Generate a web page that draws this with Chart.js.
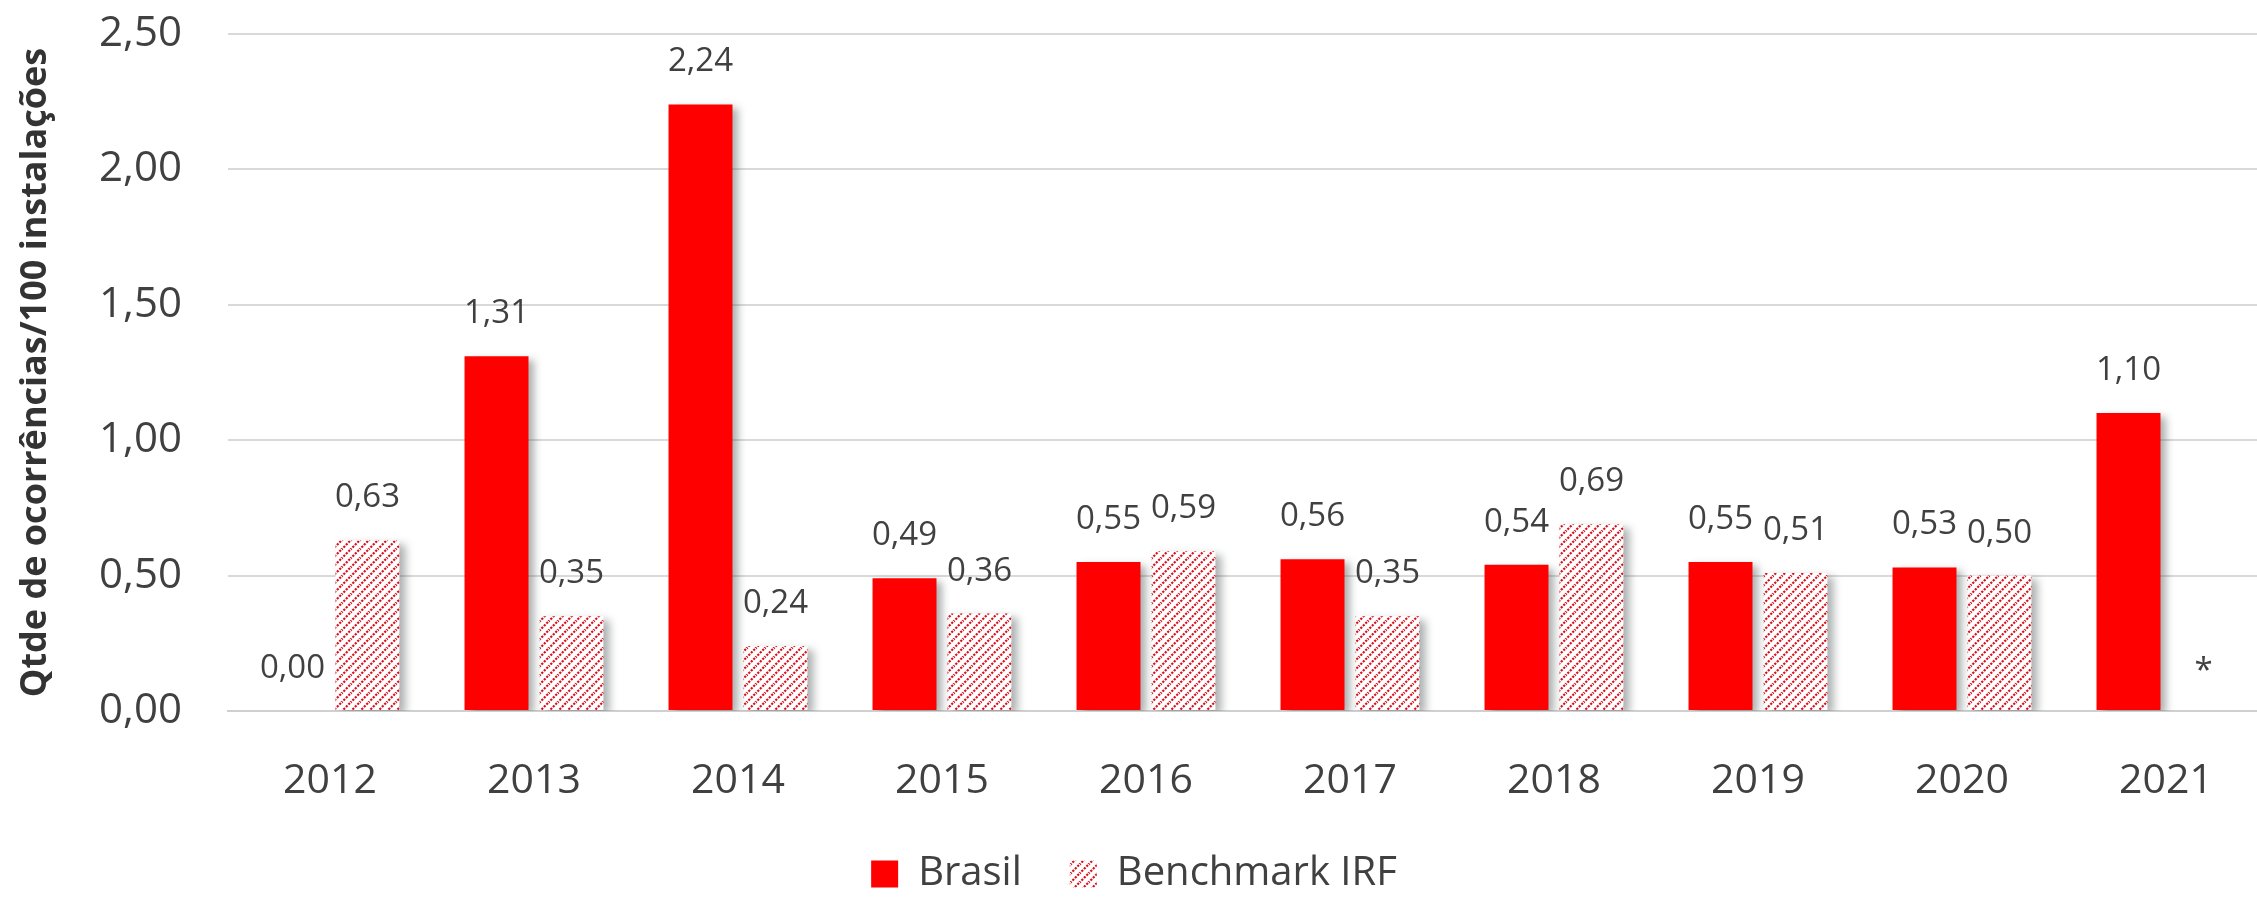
<!DOCTYPE html>
<html>
<head>
<meta charset="utf-8">
<script src="https://cdn.jsdelivr.net/npm/chart.js@4"></script>
<style>
  html, body { margin: 0; padding: 0; background: #fff; overflow: hidden; }
  #wrap { position: relative; width: 2275px; height: 898px; }
</style>
</head>
<body>
<div id="wrap"><canvas id="occChart"></canvas></div>
<script>
// chart data
const years = ['2012', '2013', '2014', '2015', '2016', '2017', '2018', '2019', '2020', '2021'];
const brasil = [0.00, 1.31, 2.24, 0.49, 0.55, 0.56, 0.54, 0.55, 0.53, 1.10];
const benchmark = [0.63, 0.35, 0.24, 0.36, 0.59, 0.35, 0.69, 0.51, 0.50, null];
const yTicks = [0, 0.5, 1.0, 1.5, 2.0, 2.5];
const seriesNames = ['Brasil', 'Benchmark IRF'];
const yTitle = 'Qtde de ocorrências/100 instalações';

const FONT = '"Open Sans", "DejaVu Sans", sans-serif';

function fmt(v) {
  return v.toFixed(2).replace('.', ',');
}

// diagonal dotted hatch used by the benchmark series
function makeHatch() {
  const size = 9;
  const c = document.createElement('canvas');
  c.width = size;
  c.height = size;
  const g = c.getContext('2d');
  g.fillStyle = '#ffffff';
  g.fillRect(0, 0, size, size);
  g.strokeStyle = '#d8101c';
  g.lineWidth = 2.2;
  g.setLineDash([2.2, 1.3]);
  g.beginPath();
  g.moveTo(-1, size + 1);
  g.lineTo(size + 1, -1);
  g.moveTo(-1, 1);
  g.lineTo(1, -1);
  g.moveTo(size - 1, size + 1);
  g.lineTo(size + 1, size - 1);
  g.stroke();
  return g.createPattern(c, 'repeat');
}

const hatch = makeHatch();

const barShadow = {
  id: 'barShadow',
  beforeDatasetsDraw(chart) {
    const ctx = chart.ctx;
    ctx.save();
    ctx.shadowColor = 'rgba(70,80,80,0.45)';
    ctx.shadowBlur = 8;
    ctx.shadowOffsetX = 6;
    ctx.shadowOffsetY = 4;
  },
  afterDatasetsDraw(chart) {
    chart.ctx.restore();
  }
};

const valueLabels = {
  id: 'valueLabels',
  afterDraw(chart) {
    const ctx = chart.ctx;
    const y0 = chart.scales.y.getPixelForValue(0);
    ctx.save();
    ctx.font = '33px ' + FONT;
    ctx.fillStyle = '#404040';
    ctx.textAlign = 'center';
    ctx.textBaseline = 'alphabetic';
    chart.data.datasets.forEach((ds, i) => {
      chart.getDatasetMeta(i).data.forEach((bar, j) => {
        const v = ds.data[j];
        if (v === null) {
          ctx.fillText('*', bar.x, y0 - 30);
        } else {
          ctx.fillText(fmt(v), bar.x, bar.y - 33);
        }
      });
    });
    ctx.restore();
  }
};

new Chart(document.getElementById('occChart'), {
  type: 'bar',
  data: {
    labels: years,
    datasets: [
      {
        label: seriesNames[0],
        data: brasil,
        backgroundColor: '#ff0000',
        borderWidth: 0
      },
      {
        label: seriesNames[1],
        data: benchmark,
        backgroundColor: hatch,
        borderWidth: 0
      }
    ]
  },
  options: {
    responsive: true,
    maintainAspectRatio: false,
    animation: false,
    devicePixelRatio: 1,
    categoryPercentage: 0.735,
    barPercentage: 0.853,
    layout: {
      padding: { top: 34, right: 7, bottom: -6, left: 0 }
    },
    plugins: {
      legend: {
        position: 'bottom',
        labels: {
          boxWidth: 27,
          boxHeight: 27,
          padding: 48,
          color: '#404040',
          font: { family: FONT, size: 40 }
        }
      },
      tooltip: { enabled: false }
    },
    scales: {
      x: {
        grid: { display: false, drawTicks: false },
        border: { display: true, color: '#d0d0d0', width: 2 },
        ticks: {
          color: '#404040',
          padding: 46,
          font: { family: FONT, size: 41 }
        },
        afterFit(scale) {
          scale.height = 95;
        }
      },
      y: {
        min: 0,
        max: 2.5,
        afterBuildTicks(scale) {
          scale.ticks = yTicks.map(v => ({ value: v }));
        },
        grid: { color: '#d9d9d9', lineWidth: 2, drawTicks: false },
        border: { display: false },
        ticks: {
          color: '#404040',
          padding: 46,
          font: { family: FONT, size: 42 },
          callback: v => fmt(v)
        },
        title: {
          display: true,
          text: yTitle,
          color: '#333333',
          padding: { top: 14, bottom: 10 },
          font: { family: FONT, size: 36, weight: 'bold' }
        },
        afterFit(scale) {
          scale.width = 228;
          scale.paddingTop = 0;
          scale.paddingBottom = 0;
        }
      }
    }
  },
  plugins: [barShadow, valueLabels]
});
</script>
</body>
</html>
